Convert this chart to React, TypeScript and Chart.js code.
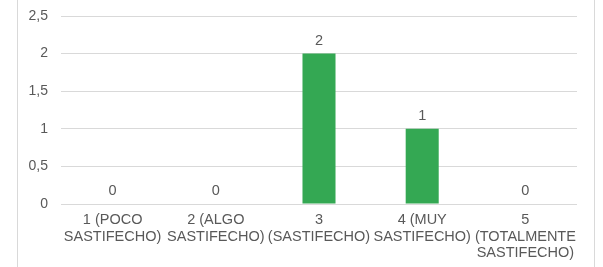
import React, { useEffect, useRef } from "react";
import { Chart, registerables } from "chart.js";

Chart.register(...registerables);

const categories: string[][] = [
  ["1 (POCO", "SASTIFECHO)"],
  ["2 (ALGO", "SASTIFECHO)"],
  ["3", "(SASTIFECHO)"],
  ["4 (MUY", "SASTIFECHO)"],
  ["5", "(TOTALMENTE", "SASTIFECHO)"],
];
const values: number[] = [0, 0, 2, 1, 0];
const yTicks: number[] = [0, 0.5, 1, 1.5, 2, 2.5];

const TEXT = "#595959";
const GRID = "#d9d9d9";
const FONT = "'Liberation Sans', Arial, sans-serif";

const valueLabels = {
  id: "valueLabels",
  afterDatasetsDraw(chart: any) {
    const ctx = chart.ctx;
    const meta = chart.getDatasetMeta(0);
    ctx.save();
    ctx.fillStyle = TEXT;
    ctx.font = `14.5px ${FONT}`;
    ctx.textAlign = "center";
    ctx.textBaseline = "alphabetic";
    meta.data.forEach((bar: any, i: number) => {
      ctx.fillText(String(values[i]).replace(".", ","), bar.x, bar.y - 9);
    });
    ctx.restore();
  },
};

export default function App() {
  const ref = useRef<HTMLCanvasElement | null>(null);
  useEffect(() => {
    document.body.style.margin = "0";
    const chart = new Chart(ref.current!, {
      type: "bar",
      data: {
        labels: categories,
        datasets: [
          {
            data: values,
            backgroundColor: "#34A853",
            borderWidth: 0,
            categoryPercentage: 1,
            barPercentage: 0.32,
          },
        ],
      },
      options: {
        animation: false,
        responsive: false,
        devicePixelRatio: 1,
        layout: { padding: { left: 0, right: 26, top: 16, bottom: 0 } },
        plugins: { legend: { display: false }, tooltip: { enabled: false } },
        scales: {
          x: {
            grid: { display: false, drawTicks: false },
            border: { display: false },
            ticks: {
              color: TEXT,
              font: { size: 14.5, family: FONT, lineHeight: 16.5 / 14.5 },
              padding: 8,
              autoSkip: false,
              maxRotation: 0,
              minRotation: 0,
            },
            afterFit: (s: any) => {
              s.height = 63;
              s.paddingLeft = 0;
              s.paddingRight = 0;
            },
          },
          y: {
            min: 0,
            max: 2.5,
            afterBuildTicks: (s: any) => {
              s.ticks = yTicks.map((v) => ({ value: v }));
            },
            grid: { color: GRID, lineWidth: 1, drawTicks: false },
            border: { display: false },
            ticks: {
              color: TEXT,
              font: { size: 14, family: FONT },
              padding: 13,
              callback: (v: any) => String(v).replace(".", ","),
            },
            afterFit: (s: any) => {
              s.width = 61;
              s.paddingTop = 0;
              s.paddingBottom = 0;
            },
          },
        },
      },
      plugins: [valueLabels],
    });
    return () => chart.destroy();
  }, []);
  return (
    <div style={{ position: "relative", width: 603, height: 267, background: "#fff" }}>
      <canvas ref={ref} width={603} height={267} style={{ display: "block" }} />
      <div style={{ position: "absolute", left: 17, top: 0, width: 1, height: 267, background: GRID }} />
      <div style={{ position: "absolute", left: 594, top: 0, width: 1, height: 267, background: GRID }} />
    </div>
  );
}
